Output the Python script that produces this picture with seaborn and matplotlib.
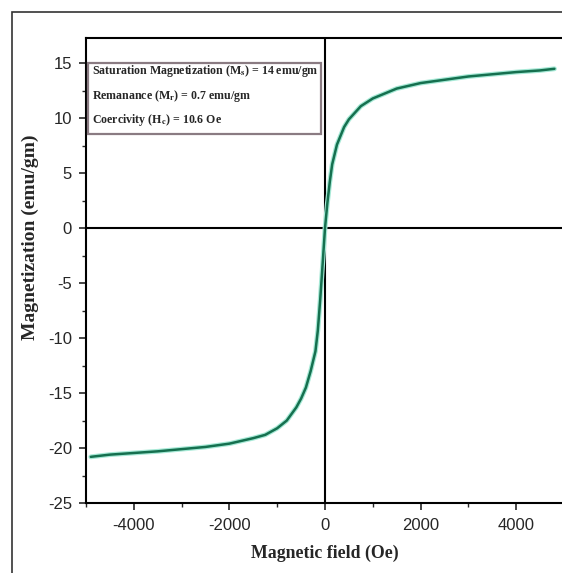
import numpy as np
import pandas as pd
import matplotlib.pyplot as plt
import seaborn as sns
from matplotlib.patches import Rectangle
from matplotlib.ticker import MultipleLocator

# M-H loop values
field = [-4900, -4500, -4000, -3500, -3000, -2500, -2000, -1500, -1250, -1000,
         -800, -600, -500, -400, -300, -200, -150, -100, -50, 0,
         50, 100, 150, 250, 400, 500, 750, 1000, 1500, 2000,
         2500, 3000, 3500, 4000, 4500, 4800]
magnetization = [-20.8, -20.6, -20.45, -20.3, -20.1, -19.9, -19.6, -19.1, -18.8, -18.2,
                 -17.5, -16.3, -15.5, -14.5, -13.0, -11.2, -9.3, -6.5, -3.3, 0.0,
                 2.3, 4.2, 5.8, 7.6, 9.2, 9.9, 11.1, 11.8, 12.7, 13.2,
                 13.5, 13.8, 14.0, 14.2, 14.35, 14.5]
x_ticks = [-4000, -2000, 0, 2000, 4000]
y_ticks = [-25, -20, -15, -10, -5, 0, 5, 10, 15]
info_lines = [r'Saturation Magnetization (M$_s$) = 14 emu/gm',
              r'Remanance (M$_r$) = 0.7 emu/gm',
              r'Coercivity (H$_c$) = 10.6 Oe']

df = pd.DataFrame({'field': field, 'magnetization': magnetization})

sns.set_style('ticks')
plt.rcParams['font.family'] = ['Liberation Sans', 'DejaVu Sans']
plt.rcParams['mathtext.fontset'] = 'stix'
plt.rcParams['mathtext.default'] = 'bf'
plt.rcParams['axes.unicode_minus'] = False

fig = plt.figure(figsize=(5.62, 5.73), dpi=100)
# outer frame of the original figure (cropped on right/bottom)
fig.patches.append(Rectangle((12 / 562, -0.1), 1.2, 1 - 12 / 573 + 0.1,
                             transform=fig.transFigure, fill=False,
                             edgecolor='#333333', linewidth=1.2))

ax = fig.add_axes([86 / 562, 1 - 503 / 573, (564 - 86) / 562, (503 - 38) / 573])

ax.axhline(0, color='black', lw=1.5, zorder=1)
ax.axvline(0, color='black', lw=1.5, zorder=1)
sns.lineplot(data=df, x='field', y='magnetization', ax=ax, color='#a6e9d6',
             lw=3.5, zorder=2, sort=False)
sns.lineplot(data=df, x='field', y='magnetization', ax=ax, color='#15704f',
             lw=1.8, zorder=3, sort=False)

ax.set_xlim(-5000, 5000)
ax.set_ylim(-25, 17.3)
ax.set_xticks(x_ticks)
ax.set_yticks(y_ticks)
ax.xaxis.set_minor_locator(MultipleLocator(1000))
ax.yaxis.set_minor_locator(MultipleLocator(2.5))
ax.tick_params(which='major', direction='out', length=5, width=1.2, labelsize=12)
ax.tick_params(axis='x', which='major', pad=6)
ax.tick_params(axis='y', which='major', pad=5)
ax.tick_params(which='minor', direction='out', length=3, width=1.0)
for s in ax.spines.values():
    s.set_linewidth(1.5)
    s.set_color('black')

ax.set_xlabel('Magnetic field (Oe)', family='Liberation Serif', fontweight='bold',
              fontsize=12.8, labelpad=8)
ax.set_ylabel('Magnetization (emu/gm)', family='Liberation Serif', fontweight='bold',
              fontsize=14)
ax.yaxis.set_label_coords(-0.098, 0.572)

# info box
ax.add_patch(Rectangle((-4960, 8.6), 4876, 6.45, fill=False, edgecolor='#8a7b82',
                       lw=1.6, zorder=4))
for i, line in enumerate(info_lines):
    ax.text(-4880, 14.3 - i * 2.25, line, family='Liberation Serif', fontweight='bold',
            fontsize=8.6, va='center', ha='left', zorder=5)

fig.savefig('out.png', dpi=100)
